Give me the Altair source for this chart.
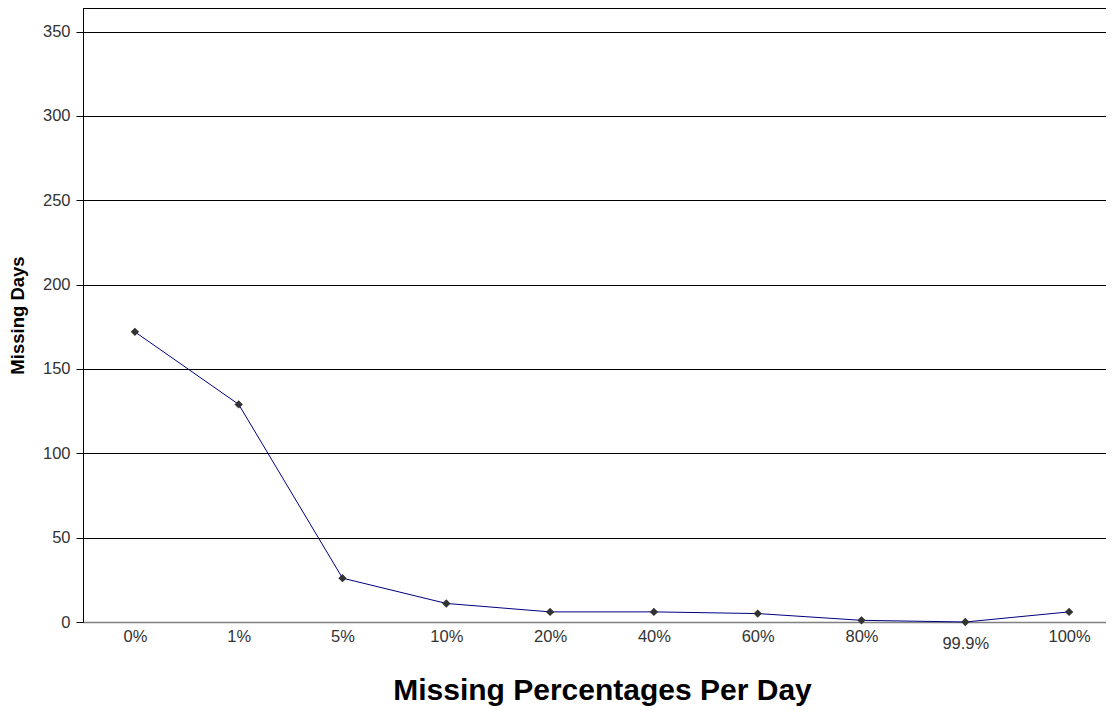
import altair as alt
import pandas as pd

categories = ["0%", "1%", "5%", "10%", "20%", "40%", "60%", "80%", "99.9%", "100%"]
missing_days = [172, 129, 26, 11, 6, 6, 5, 1, 0, 6]
y_ticks = [0, 50, 100, 150, 200, 250, 300, 350]
Y_MAX = 364

df = pd.DataFrame({"pct": categories, "days": missing_days})

FONT = "Liberation Sans"

x_enc = alt.X(
    "pct:N",
    sort=categories,
    scale=alt.Scale(type="point", padding=0.5, range=[0, 1038]),
    axis=alt.Axis(
        title="Missing Percentages Per Day",
        titleFont=FONT, titleFontSize=30, titleFontWeight="bold", titleColor="black",
        titlePadding=24,
        labelFont=FONT, labelFontSize=16.5, labelColor="#333333", labelAngle=0,
        labelPadding={"condition": {"test": "datum.label == '99.9%'", "value": 13}, "value": 6},
        ticks=False, grid=False,
        domainColor="#808080", domainWidth=1.5,
    ),
)

y_enc = alt.Y(
    "days:Q",
    scale=alt.Scale(domain=[0, Y_MAX], nice=False, zero=True),
    axis=alt.Axis(
        title="Missing Days",
        titleFont=FONT, titleFontSize=18.5, titleFontWeight="bold", titleColor="black",
        titlePadding=15,
        values=y_ticks,
        labelFont=FONT, labelFontSize=16.5, labelColor="#333333", labelPadding=6,
        tickSize=7, tickColor="black",
        grid=True, gridColor="black", gridOpacity=1, gridWidth=1,
        domainColor="black", domainWidth=1,
    ),
)

base = alt.Chart(df)

line = base.mark_line(color="#000080", strokeWidth=1).encode(x=x_enc, y=y_enc)
points = base.mark_point(shape="diamond", filled=True, color="#333333", size=70, opacity=1).encode(
    x=x_enc, y=y_enc
)
top_border = alt.Chart(df).mark_rule(color="black", strokeWidth=1).encode(y=alt.datum(Y_MAX))

chart = (
    alt.layer(top_border, line, points)
    .properties(
        width=1023,
        height=614,
        autosize=alt.AutoSizeParams(type="none"),
        padding={"left": 75, "top": 0, "right": 0, "bottom": 87},
        background="white",
    )
    .configure_view(stroke=None)
)

chart.save("out.html", embed_options={"renderer": "svg", "actions": False})
